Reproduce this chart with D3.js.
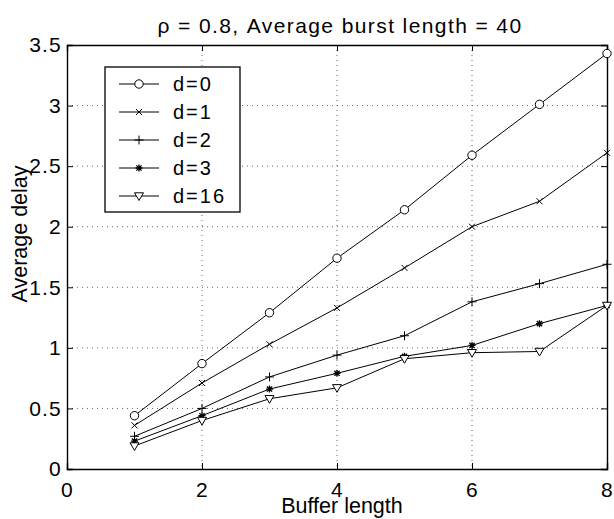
<!DOCTYPE html>
<html>
<head>
<meta charset="utf-8">
<script src="https://cdn.jsdelivr.net/npm/d3@7"></script>
<style>
  body { margin: 0; background: #fff; }
  text { font-family: "Liberation Sans", Arial, sans-serif; fill: #000; }
  .grid line { stroke: #666; stroke-dasharray: 1,4; stroke-width: 1; }
</style>
</head>
<body>
<svg id="chart" width="614" height="519"></svg>
<script>
// data
const bufferLength = [1, 2, 3, 4, 5, 6, 7, 8];
const delayD0  = [0.44, 0.87, 1.29, 1.74, 2.14, 2.59, 3.01, 3.43];
const delayD1  = [0.36, 0.71, 1.03, 1.33, 1.66, 2.00, 2.21, 2.61];
const delayD2  = [0.27, 0.50, 0.76, 0.94, 1.10, 1.38, 1.53, 1.69];
const delayD3  = [0.23, 0.44, 0.66, 0.79, 0.93, 1.02, 1.20, 1.35];
const delayD16 = [0.19, 0.40, 0.58, 0.67, 0.91, 0.96, 0.97, 1.35];
const seriesNames = ["d=0", "d=1", "d=2", "d=3", "d=16"];
const seriesMarkers = ["circle", "cross", "plus", "star", "triangle"];
const xTicks = [0, 2, 4, 6, 8];
const yTicks = [0, 0.5, 1, 1.5, 2, 2.5, 3, 3.5];

const series = [delayD0, delayD1, delayD2, delayD3, delayD16].map((vals, i) => ({
  name: seriesNames[i],
  marker: seriesMarkers[i],
  points: vals.map((v, j) => [bufferLength[j], v])
}));

const svg = d3.select("#chart");
const pLeft = 67, pRight = 607, pTop = 45, pBottom = 469;

const x = d3.scaleLinear().domain([0, 8]).range([pLeft, pRight]);
const y = d3.scaleLinear().domain([0, 3.5]).range([pBottom, pTop]);

// dotted grid
const grid = svg.append("g").attr("class", "grid");
grid.selectAll(".gx").data(xTicks.slice(1, -1)).enter().append("line")
  .attr("x1", d => x(d)).attr("x2", d => x(d)).attr("y1", pTop).attr("y2", pBottom);
grid.selectAll(".gy").data(yTicks.slice(1, -1)).enter().append("line")
  .attr("x1", pLeft).attr("x2", pRight).attr("y1", d => y(d)).attr("y2", d => y(d));

// axes with inward ticks on all four sides
const tl = 6;
const axB = svg.append("g").attr("transform", `translate(0,${pBottom})`)
  .call(d3.axisBottom(x).tickValues(xTicks).tickSize(-tl).tickPadding(13).tickFormat(d3.format("d")));
const axT = svg.append("g").attr("transform", `translate(0,${pTop})`)
  .call(d3.axisTop(x).tickValues(xTicks).tickSize(-tl).tickFormat(""));
const axL = svg.append("g").attr("transform", `translate(${pLeft},0)`)
  .call(d3.axisLeft(y).tickValues(yTicks).tickSize(-tl).tickPadding(5).tickFormat(d => d));
const axR = svg.append("g").attr("transform", `translate(${pRight},0)`)
  .call(d3.axisRight(y).tickValues(yTicks).tickSize(-tl).tickFormat(""));
[axB, axT, axL, axR].forEach(a => {
  a.select(".domain").attr("stroke", "#000").attr("stroke-width", 1.4);
  a.selectAll(".tick line").attr("stroke", "#000");
  a.selectAll("text").attr("font-size", 21).attr("letter-spacing", 1.2)
    .attr("font-family", "Liberation Sans, Arial, sans-serif");
});

// lines
const line = d3.line().x(d => x(d[0])).y(d => y(d[1]));
svg.append("g").selectAll("path").data(series).enter().append("path")
  .attr("d", d => line(d.points))
  .attr("fill", "none").attr("stroke", "#000").attr("stroke-width", 1);

function drawMarker(g, type) {
  const s = "#000";
  if (type === "circle") {
    g.append("circle").attr("r", 4.2).attr("fill", "#fff").attr("stroke", s);
  } else if (type === "cross") {
    g.append("path").attr("d", "M-3,-3L3,3M-3,3L3,-3").attr("stroke", s);
  } else if (type === "plus") {
    g.append("path").attr("d", "M-4.5,0L4.5,0M0,-4.5L0,4.5").attr("stroke", s);
  } else if (type === "star") {
    g.append("path").attr("d", "M-3.5,0L3.5,0M0,-3.5L0,3.5M-2.6,-2.6L2.6,2.6M-2.6,2.6L2.6,-2.6").attr("stroke", s).attr("stroke-width", 1.3);
  } else if (type === "triangle") {
    g.append("path").attr("d", "M-4.5,-3.2L4.5,-3.2L0,4.5Z").attr("fill", "#fff").attr("stroke", s);
  }
}

series.forEach(se => {
  se.points.forEach(p => {
    const g = svg.append("g").attr("transform", `translate(${x(p[0])},${y(p[1])})`);
    drawMarker(g, se.marker);
  });
});

// legend
const lg = svg.append("g");
lg.append("rect").attr("x", 105).attr("y", 67).attr("width", 135).attr("height", 145)
  .attr("fill", "#fff").attr("stroke", "#000").attr("stroke-width", 1.3);
series.forEach((se, i) => {
  const yy = 84 + i * 28;
  lg.append("line").attr("x1", 119).attr("x2", 159).attr("y1", yy).attr("y2", yy).attr("stroke", "#000");
  const g = lg.append("g").attr("transform", `translate(139,${yy})`);
  drawMarker(g, se.marker);
  lg.append("text").attr("x", 173).attr("y", yy).attr("dy", "0.36em").attr("font-size", 20)
    .attr("letter-spacing", 2).text(se.name);
});

// title and axis labels
svg.append("text").attr("x", 340).attr("y", 33).attr("text-anchor", "middle")
  .attr("font-size", 21).attr("letter-spacing", 1.4).text("\u03c1 = 0.8, Average burst length = 40");
svg.append("text").attr("x", 342).attr("y", 513).attr("text-anchor", "middle")
  .attr("font-size", 21.5).text("Buffer length");
svg.append("text").attr("transform", "translate(27,234) rotate(-90)")
  .attr("text-anchor", "middle").attr("font-size", 21.5).text("Average delay");
</script>
</body>
</html>
